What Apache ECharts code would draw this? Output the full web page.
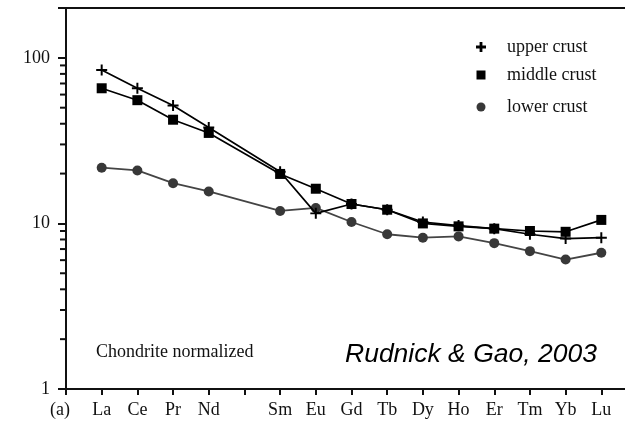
<!DOCTYPE html>
<html>
<head>
<meta charset="utf-8">
<script src="https://cdn.jsdelivr.net/npm/echarts@6/dist/echarts.min.js"></script>
<style>
    html, body {margin: 0; padding: 0; background: #fff;}
    #main {width: 625px; height: 421px;}
</style>
</head>
<body>
<div id="main"></div>
<script>
// x slots: origin "(a)", REE elements, empty Pm slot, trailing pad slot
const categories = ['(a)', 'La', 'Ce', 'Pr', 'Nd', 'Pm', 'Sm', 'Eu', 'Gd', 'Tb', 'Dy', 'Ho', 'Er', 'Tm', 'Yb', 'Lu', ' '];
const elements = ['La', 'Ce', 'Pr', 'Nd', 'Sm', 'Eu', 'Gd', 'Tb', 'Dy', 'Ho', 'Er', 'Tm', 'Yb', 'Lu'];

// chondrite normalized values
const upperCrust = [84.5, 65.5, 51.5, 38.0, 20.5, 11.5, 13.1, 12.1, 10.2, 9.7, 9.3, 8.6, 8.1, 8.2];
const middleCrust = [65.5, 55.5, 42.3, 35.2, 19.9, 16.2, 13.1, 12.1, 10.0, 9.6, 9.3, 9.0, 8.9, 10.5];
const lowerCrust = [21.7, 20.9, 17.5, 15.6, 11.9, 12.4, 10.2, 8.6, 8.2, 8.35, 7.6, 6.8, 6.05, 6.65];

const yLabels = [1, 10, 100];
const minorTickValues = [2, 3, 4, 5, 6, 7, 8, 9, 20, 30, 40, 50, 60, 70, 80, 90];

function alignToSlots(values) {
    return categories.map(function (c) {
        let i = elements.indexOf(c);
        return i >= 0 ? values[i] : '-';
    });
}

const serif = "'Liberation Serif', 'DejaVu Serif', serif";
const ink = '#111';
const plusPath = 'path://M4.1,0H5.9V4.1H10V5.9H5.9V10H4.1V5.9H0V4.1H4.1Z';
const plusBold = 'path://M3.6,0H6.4V3.6H10V6.4H6.4V10H3.6V6.4H0V3.6H3.6Z';

function legendAt(name, icon, top, size) {
    return {
        data: [{name: name, icon: icon}],
        left: 476 - size / 2,
        top: top,
        orient: 'vertical',
        itemWidth: size,
        itemHeight: size,
        selectedMode: false,
        formatter: '{t|{name}}',
        textStyle: {
            fontFamily: serif,
            fontSize: 18,
            color: ink,
            rich: {t: {fontFamily: serif, fontSize: 18, color: ink, padding: [0, 0, 0, 21 - size / 2]}}
        }
    };
}

let chart = echarts.init(document.getElementById('main'));
chart.setOption({
    animation: false,
    backgroundColor: '#fff',
    grid: {
        left: 66,
        right: -12,
        top: 8,
        bottom: 32,
        outerBoundsMode: 'none',
        containLabel: false,
        show: true,
        borderColor: ink,
        borderWidth: 2
    },
    legend: [
        legendAt('upper crust', plusBold, 33, 10),
        legendAt('middle crust', 'rect', 61, 9),
        legendAt('lower crust', 'circle', 93, 9)
    ],
    xAxis: {
        type: 'category',
        data: categories,
        boundaryGap: false,
        axisLine: {lineStyle: {color: ink, width: 2}},
        axisTick: {length: 6, interval: 0, lineStyle: {color: ink, width: 2}},
        splitLine: {show: false},
        axisLabel: {
            interval: 0,
            margin: 12,
            fontFamily: serif,
            fontSize: 18,
            color: ink,
            formatter: function (v) {
                if (v === '(a)') return '{a|(a)}';
                return v === 'Pm' ? '' : v;
            },
            rich: {a: {fontFamily: serif, fontSize: 18, color: ink, padding: [0, 12, 0, 0]}}
        }
    },
    yAxis: {
        type: 'log',
        logBase: 10,
        min: 1,
        max: 200,
        axisLine: {show: true, lineStyle: {color: ink, width: 2}},
        axisTick: {show: true, length: 8, lineStyle: {color: ink, width: 2}},
        splitLine: {show: false},
        axisLabel: {
            margin: 16,
            fontFamily: serif,
            fontSize: 18,
            color: ink,
            formatter: function (v) {
                let r = Math.round(v);
                return yLabels.indexOf(r) >= 0 && Math.abs(v - r) < 1e-6 ? String(r) : '';
            }
        }
    },
    graphic: [
        {
            type: 'text',
            left: 96,
            top: 343,
            style: {text: 'Chondrite normalized', font: '18px ' + serif, fill: ink}
        },
        {
            type: 'text',
            left: 345,
            top: 341,
            style: {text: 'Rudnick & Gao, 2003', font: "italic 26.5px 'Liberation Sans', Arial, sans-serif", fill: '#000'}
        }
    ],
    series: [
        {
            type: 'custom',
            silent: true,
            data: minorTickValues.map(function (v) { return [0, v]; }),
            renderItem: function (params, api) {
                let p = api.coord([api.value(0), api.value(1)]);
                return {
                    type: 'line',
                    shape: {x1: p[0] - 6, y1: p[1], x2: p[0], y2: p[1]},
                    style: {stroke: ink, lineWidth: 2}
                };
            },
            z: 1
        },
        {
            name: 'lower crust',
            type: 'line',
            data: alignToSlots(lowerCrust),
            connectNulls: true,
            symbol: 'circle',
            symbolSize: 10,
            lineStyle: {color: '#444', width: 1.8},
            itemStyle: {color: '#383838'},
            z: 2
        },
        {
            name: 'middle crust',
            type: 'line',
            data: alignToSlots(middleCrust),
            connectNulls: true,
            symbol: 'rect',
            symbolSize: 10,
            lineStyle: {color: '#000', width: 1.7},
            itemStyle: {color: '#000'},
            z: 3
        },
        {
            name: 'upper crust',
            type: 'line',
            data: alignToSlots(upperCrust),
            connectNulls: true,
            symbol: plusPath,
            symbolSize: 11,
            lineStyle: {color: '#000', width: 1.7},
            itemStyle: {color: '#000'},
            z: 4
        }
    ]
});
</script>
</body>
</html>
